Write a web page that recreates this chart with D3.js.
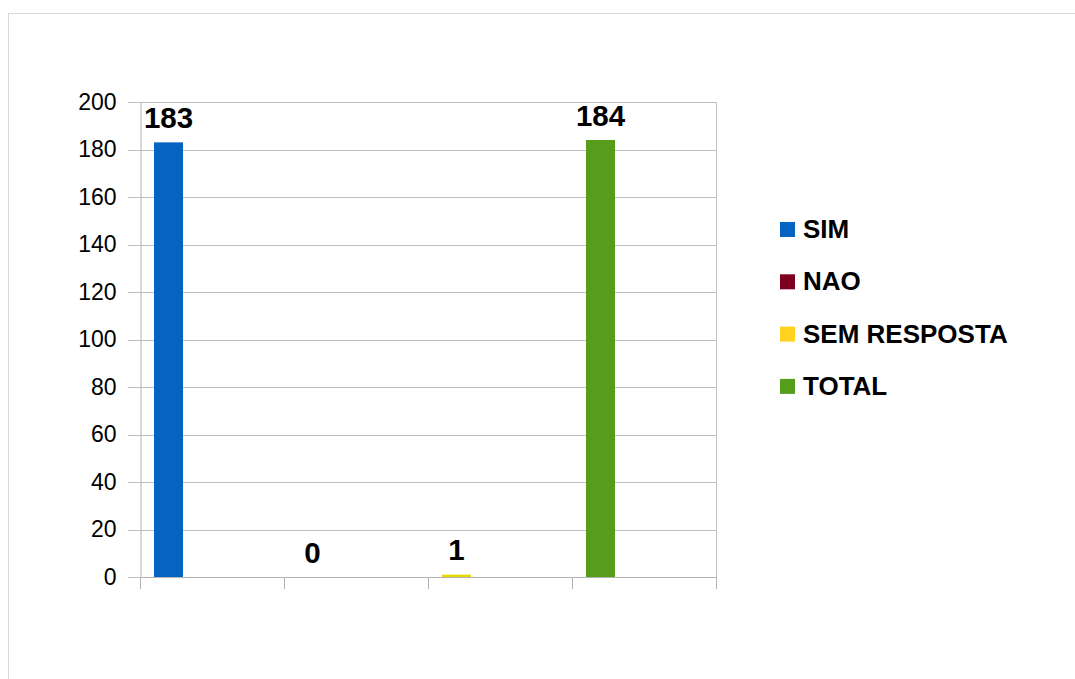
<!DOCTYPE html>
<html>
<head>
<meta charset="utf-8">
<script src="https://cdn.jsdelivr.net/npm/d3@7"></script>
<style>
  html, body { margin: 0; padding: 0; background: #fff; }
  svg { display: block; font-family: "Liberation Sans", Arial, sans-serif; }
</style>
</head>
<body>
<div id="chart"></div>
<script>
"use strict";

const categories = ['SIM', 'NAO', 'SEM RESPOSTA', 'TOTAL']
const values = [183, 0, 1, 184]
const colors = ['#0563c1', '#7e0021', '#ffd320', '#579d1c']
const barColors = ['#0563c1', '#7e0021', '#e2dc00', '#579d1c']
const yTicks = [0, 20, 40, 60, 80, 100, 120, 140, 160, 180, 200]

const W = 1075, H = 679
const plot = { left: 140, top: 102, right: 716, bottom: 577 }

const svg = d3.select('#chart')
  .append('svg')
    .attr('width', W)
    .attr('height', H)

// outer frame
svg.append('rect')
  .attr('x', 8.5).attr('y', 13.5)
  .attr('width', W).attr('height', H)
  .attr('fill', 'none')
  .attr('stroke', '#d9d9d9')

const x = d3.scaleBand()
  .domain(categories)
  .range([plot.left, plot.right])

const y = d3.scaleLinear()
  .domain([0, 200])
  .range([plot.bottom, plot.top])

// gridlines
svg.append('g')
  .selectAll('line')
  .data(yTicks)
  .join('line')
    .attr('x1', plot.left - 12)
    .attr('x2', plot.right)
    .attr('y1', d => Math.round(y(d)) + 0.5)
    .attr('y2', d => Math.round(y(d)) + 0.5)
    .attr('stroke', '#c0c0c0')

// right border of the plot
svg.append('line')
  .attr('x1', plot.right + 0.5).attr('x2', plot.right + 0.5)
  .attr('y1', plot.top).attr('y2', plot.bottom)
  .attr('stroke', '#c0c0c0')

// y axis
const yAxis = svg.append('g')
  .attr('transform', `translate(${plot.left + 0.5},0)`)
  .call(d3.axisLeft(y).tickValues(yTicks).tickSize(0).tickPadding(24))
yAxis.select('.domain').attr('stroke', '#b3b3b3')
yAxis.selectAll('text')
  .attr('font-size', 23)
  .attr('fill', '#000')
  .attr('font-family', '"Liberation Sans", Arial, sans-serif')

// x axis: only the category separator ticks
const xEdges = categories.map(c => x(c)).concat([plot.right])
svg.append('line')
  .attr('x1', plot.left).attr('x2', plot.right)
  .attr('y1', plot.bottom + 0.5).attr('y2', plot.bottom + 0.5)
  .attr('stroke', '#b3b3b3')
svg.append('g')
  .selectAll('line')
  .data(xEdges)
  .join('line')
    .attr('x1', d => Math.round(d) + 0.5)
    .attr('x2', d => Math.round(d) + 0.5)
    .attr('y1', plot.bottom)
    .attr('y2', plot.bottom + 12)
    .attr('stroke', '#b3b3b3')

// bars
const barOffset = 14, barWidth = 29
svg.append('g')
  .selectAll('rect')
  .data(values)
  .join('rect')
    .attr('x', (d, i) => x(categories[i]) + barOffset)
    .attr('y', d => y(d))
    .attr('width', barWidth)
    .attr('height', d => y(0) - y(d))
    .attr('fill', (d, i) => barColors[i])

// value labels
svg.append('g')
  .selectAll('text')
  .data(values)
  .join('text')
    .attr('x', (d, i) => x(categories[i]) + barOffset + barWidth / 2)
    .attr('y', d => y(d) - 14.5)
    .attr('text-anchor', 'middle')
    .attr('font-size', 29.5)
    .attr('font-weight', 'bold')
    .text(d => d)

// legend
const legend = svg.append('g')
  .selectAll('g')
  .data(categories)
  .join('g')
    .attr('transform', (d, i) => `translate(780,${238 + i * 52.3})`)

legend.append('rect')
  .attr('x', 0).attr('y', -16)
  .attr('width', 15).attr('height', 15)
  .attr('fill', (d, i) => colors[i])

legend.append('text')
  .attr('x', 23).attr('y', 0)
  .attr('font-size', 26)
  .attr('font-weight', 'bold')
  .text(d => d)
</script>
</body>
</html>
